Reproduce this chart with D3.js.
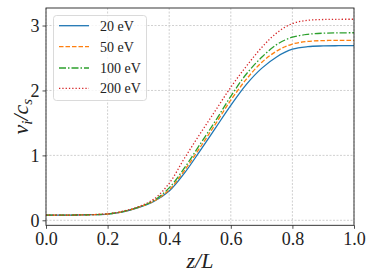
<!DOCTYPE html>
<html><head><meta charset="utf-8">
<script src="https://cdn.jsdelivr.net/npm/d3@7"></script>
<style>body{margin:0;background:#fff}svg{display:block}</style>
</head><body>
<script>
const zValues = [0,0.05,0.1,0.15,0.2,0.25,0.3,0.35,0.4,0.45,0.5,0.55,0.6,0.65,0.7,0.75,0.8,0.85,0.9,0.95,1.0];
const v20  = [0.08,0.08,0.082,0.087,0.096,0.13,0.195,0.29,0.45,0.73,1.07,1.42,1.77,2.09,2.34,2.52,2.635,2.675,2.686,2.689,2.69];
const v50  = [0.08,0.08,0.082,0.087,0.097,0.133,0.2,0.295,0.47,0.77,1.12,1.48,1.85,2.17,2.43,2.61,2.715,2.755,2.768,2.771,2.772];
const v100 = [0.08,0.08,0.082,0.087,0.097,0.135,0.203,0.305,0.5,0.81,1.17,1.53,1.91,2.25,2.51,2.71,2.82,2.865,2.882,2.887,2.889];
const v200 = [0.08,0.08,0.082,0.088,0.1,0.14,0.21,0.325,0.57,0.96,1.33,1.69,2.05,2.37,2.66,2.89,3.03,3.08,3.093,3.096,3.097];
const seriesLabels = ["20 eV","50 eV","100 eV","200 eV"];
const xTicks = [0,0.2,0.4,0.6,0.8,1.0];
const yTicks = [0,1,2,3];

const W=374,H=280, m={l:46,r:20,t:8,b:54.7};
const svg=d3.select("body").append("svg").attr("width",W).attr("height",H);
const x=d3.scaleLinear().domain([0,1]).range([m.l,W-m.r]);
const y=d3.scaleLinear().domain([-0.077,3.27]).range([H-m.b,m.t]);
const font="'Liberation Serif','Times New Roman',serif";

// grid
const g=svg.append("g");
g.selectAll(".gx").data(xTicks).join("line").attr("x1",d=>x(d)).attr("x2",d=>x(d)).attr("y1",m.t).attr("y2",H-m.b)
 .attr("stroke","#c4c4c4").attr("stroke-width",0.8).attr("stroke-dasharray","2,1.5");
g.selectAll(".gy").data(yTicks).join("line").attr("y1",d=>y(d)).attr("y2",d=>y(d)).attr("x1",m.l).attr("x2",W-m.r)
 .attr("stroke","#c4c4c4").attr("stroke-width",0.8).attr("stroke-dasharray","2,1.5");

const styles=[
 {c:"#1f77b4",d:null},
 {c:"#ff7f0e",d:"4.5,2"},
 {c:"#2ca02c",d:"7,2,1.5,2"},
 {c:"#d62728",d:"1.3,2"}
];
const all=[v20,v50,v100,v200];
const line=d3.line().x((d,i)=>x(zValues[i])).y(d=>y(d)).curve(d3.curveCatmullRom.alpha(0.5));
all.forEach((s,k)=>{
  svg.append("path").datum(s).attr("d",line).attr("fill","none").attr("stroke",styles[k].c)
   .attr("stroke-width",1.3).attr("stroke-dasharray",styles[k].d);
});

// axes
const xa=svg.append("g").attr("transform",`translate(0,${H-m.b})`)
 .call(d3.axisBottom(x).tickValues(xTicks).tickFormat(d3.format(".1f")).tickSize(3.5).tickPadding(3));
const ya=svg.append("g").attr("transform",`translate(${m.l},0)`)
 .call(d3.axisLeft(y).tickValues(yTicks).tickFormat(d3.format("d")).tickSize(3.5).tickPadding(3));
[xa,ya].forEach(a=>{a.select(".domain").remove();a.selectAll("line").attr("stroke","#222").attr("stroke-width",0.8);
 a.selectAll("text").attr("font-family",font).attr("font-size",18).attr("fill","#222");});
svg.append("rect").attr("x",m.l).attr("y",m.t).attr("width",W-m.l-m.r).attr("height",H-m.t-m.b)
 .attr("fill","none").attr("stroke","#222").attr("stroke-width",0.9);

// labels
svg.append("text").attr("x",(m.l+W-m.r)/2).attr("y",268).attr("text-anchor","middle")
 .attr("font-family",font).attr("font-size",22).attr("font-style","italic").attr("fill","#222").text("z/L");
const yl=svg.append("text").attr("transform",`translate(28,${(m.t+H-m.b)/2}) rotate(-90)`).attr("text-anchor","middle")
 .attr("font-family",font).attr("font-size",22).attr("font-style","italic").attr("fill","#222");
yl.append("tspan").text("v");
yl.append("tspan").attr("font-size",15).attr("dy",4).text("i");
yl.append("tspan").attr("dy",-4).text("/c");
yl.append("tspan").attr("font-size",15).attr("dy",4).text("s");

// legend
const lg=svg.append("g");
lg.append("rect").attr("x",53.5).attr("y",15.5).attr("width",93).attr("height",85).attr("rx",3)
 .attr("fill","#fff").attr("fill-opacity",0.8).attr("stroke","#d0d0d0").attr("stroke-width",0.8);
const ly=[25.7,46.7,68,88.3];
seriesLabels.forEach((t,k)=>{
  lg.append("line").attr("x1",59).attr("x2",89).attr("y1",ly[k]).attr("y2",ly[k]).attr("stroke",styles[k].c)
   .attr("stroke-width",1.3).attr("stroke-dasharray",styles[k].d);
  lg.append("text").attr("x",100).attr("y",ly[k]+5).attr("font-family",font).attr("font-size",14).attr("fill","#222").text(t);
});
</script>
</body></html>
